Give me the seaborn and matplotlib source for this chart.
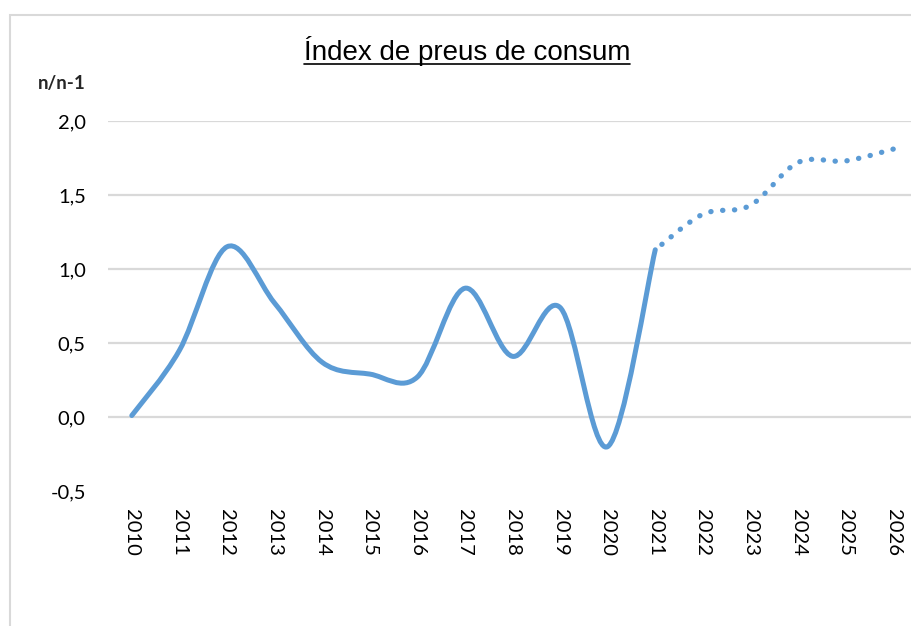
import numpy as np
import matplotlib
matplotlib.use("Agg")
import matplotlib.pyplot as plt
import seaborn as sns
from matplotlib.path import Path
from matplotlib.patches import PathPatch, Rectangle
from matplotlib.lines import Line2D

# Dades
years = list(range(2010, 2027))
year_labels = [str(y) for y in years]
hist_years = list(range(2010, 2022))
hist_values = [0.01, 0.45, 1.15, 0.77, 0.37, 0.29, 0.27, 0.87, 0.41, 0.74, -0.20, 1.13]
proj_years = list(range(2021, 2027))
proj_values = [1.13, 1.37, 1.43, 1.72, 1.73, 1.81]
y_ticks = [-0.5, 0.0, 0.5, 1.0, 1.5, 2.0]
y_tick_labels = ['-0,5', '0,0', '0,5', '1,0', '1,5', '2,0']

line_color = '#5B9BD5'
grid_color = '#d9d9d9'


def smooth_path(xs, ys):
    # linia suavitzada tipus Excel (Bezier amb tangents Catmull-Rom)
    pts = np.column_stack([xs, ys]).astype(float)
    n = len(pts)
    verts = [pts[0]]
    codes = [Path.MOVETO]
    for i in range(n - 1):
        p0 = pts[i - 1] if i > 0 else pts[i]
        p1, p2 = pts[i], pts[i + 1]
        p3 = pts[i + 2] if i + 2 < n else pts[i + 1]
        verts += [p1 + (p2 - p0) / 6, p2 - (p3 - p1) / 6, p2]
        codes += [Path.CURVE4] * 3
    return Path(verts, codes)


sns.set_theme(style='white')
plt.rcParams['font.family'] = ['Lato', 'DejaVu Sans']

W, H = 912, 626
fig = plt.figure(figsize=(W / 100, H / 100), dpi=100)

# marc exterior del gràfic
fig.patches.append(Rectangle((10 / W, -0.1), 1.2, (H - 15) / H + 0.1,
                             transform=fig.transFigure, fill=False,
                             ec=grid_color, lw=1.5))

ax = fig.add_axes([108 / W, 1 - 491 / H, 809 / W, 370 / H])
ax.set_xlim(2009.5, 2026.5)
ax.set_ylim(-0.5, 2.0)
for y in y_ticks[1:]:
    ax.axhline(y, color=grid_color, lw=1.6, zorder=0)

ax.add_patch(PathPatch(smooth_path(hist_years, hist_values), fill=False,
                       ec=line_color, lw=3.6, capstyle='round',
                       joinstyle='round', zorder=3))
# previsió: es dibuixa des del final perquè hi hagi un punt a 2026
ax.add_patch(PathPatch(smooth_path(proj_years[::-1], proj_values[::-1]),
                       fill=False, ec=line_color, lw=3.8, capstyle='round',
                       linestyle=(0, (0.05, 2.2)), zorder=3))

ax.set_xticks(years)
ax.set_xticklabels(year_labels, rotation=270, fontsize=14.5, color='black')
ax.set_yticks(y_ticks)
ax.set_yticklabels(y_tick_labels, fontsize=14.5, color='black')
ax.tick_params(axis='x', length=0, pad=13)
ax.tick_params(axis='y', length=0, pad=16)
sns.despine(ax=ax, left=True, bottom=True)

fig.text(38 / W, 1 - 84 / H, 'n/n-1', fontsize=13.5, fontweight='bold',
         color='#262626', ha='left', va='center')

title = fig.text(467 / W, 1 - 59.5 / H, 'Índex de preus de consum',
                 fontsize=20, family='Liberation Sans', color='black',
                 ha='center', va='baseline')
fig.canvas.draw()
bb = title.get_window_extent()
uy = (H - 63.5) / H
fig.add_artist(Line2D([bb.x0 / W, bb.x1 / W], [uy, uy], color='black',
                      lw=1.2, transform=fig.transFigure))

fig.savefig('out.png', dpi=100)
